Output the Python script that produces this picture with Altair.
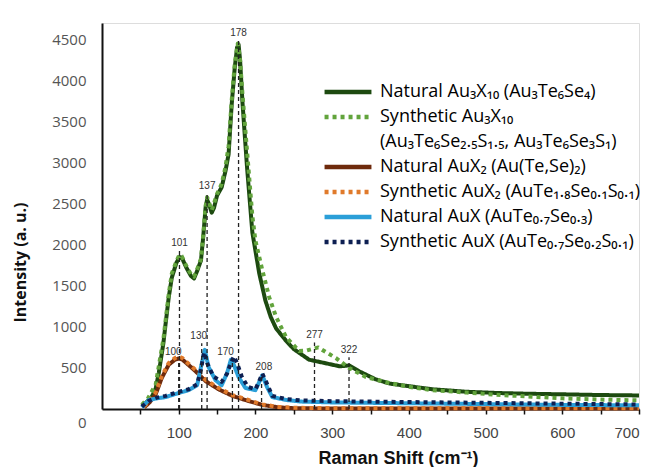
import altair as alt
import pandas as pd

series_names = [
    "Natural Au₃X₁₀ (Au₃Te₆Se₄)",
    "Synthetic Au₃X₁₀",
    "(Au₃Te₆Se₂.₅S₁.₅, Au₃Te₆Se₃S₁)",
    "Natural AuX₂ (Au(Te,Se)₂)",
    "Synthetic AuX₂ (AuTe₁.₈Se₀.₁S₀.₁)",
    "Natural AuX (AuTe₀.₇Se₀.₃)",
    "Synthetic AuX (AuTe₀.₇Se₀.₂S₀.₁)",
]
series_colors = ["#1d4a10", "#62a43c", "transparent", "#6e2a0c", "#e07a2b", "#2b9fd8", "#0d1f52"]
series_dash = [[1, 0], [4, 4], [1, 0], [1, 0], [4, 4], [1, 0], [4, 4]]

# Natural Au3X10
nat_au3x10_x = [52, 60, 65, 70, 74, 80, 83, 87, 91, 97, 101, 104, 110, 116, 120, 124, 129, 132, 135, 137, 140, 143, 146, 150, 156, 161, 165, 169, 173, 176, 178, 180, 183, 189, 196, 205, 213, 220, 227, 240, 250, 270, 290, 310, 322, 335, 357, 375, 390, 431, 475, 518, 560, 606, 650, 700]
nat_au3x10_y = [30, 100, 150, 250, 437, 800, 1044, 1360, 1600, 1780, 1850, 1845, 1720, 1620, 1590, 1680, 1808, 2100, 2450, 2550, 2480, 2390, 2450, 2600, 2700, 2900, 3100, 3700, 4150, 4400, 4440, 4250, 3750, 2950, 2150, 1650, 1320, 1120, 980, 830, 730, 600, 560, 520, 530, 460, 360, 310, 290, 240, 210, 194, 185, 178, 170, 165]

# Synthetic Au3X10
syn_au3x10_x = [52, 60, 70, 80, 87, 91, 97, 101, 104, 110, 116, 120, 124, 129, 132, 135, 137, 140, 143, 150, 156, 161, 165, 169, 173, 177, 180, 183, 189, 196, 200, 209, 218, 227, 240, 257, 266, 282, 292, 305, 322, 344, 375, 400, 430, 475, 520, 560, 600, 650, 700]
syn_au3x10_y = [50, 130, 300, 850, 1400, 1650, 1800, 1880, 1860, 1740, 1640, 1610, 1700, 1830, 2120, 2470, 2580, 2500, 2420, 2620, 2740, 2950, 3200, 3750, 4200, 4450, 4250, 3850, 3150, 2350, 2050, 1690, 1360, 1120, 875, 705, 710, 750, 692, 620, 500, 390, 315, 270, 230, 200, 170, 150, 130, 115, 105]

# Natural AuX2
nat_aux2_x = [55, 62, 70, 78, 87, 95, 100, 105, 110, 122, 135, 152, 170, 190, 209, 230, 250, 300, 400, 500, 600, 700]
nat_aux2_y = [20, 80, 180, 380, 540, 600, 615, 600, 560, 460, 340, 240, 160, 100, 50, 20, 10, 5, 5, 5, 5, 5]

# Synthetic AuX2
syn_aux2_x = [55, 62, 70, 78, 87, 95, 100, 105, 110, 122, 135, 152, 170, 191, 209, 230, 250, 300, 400, 500, 600, 700]
syn_aux2_y = [30, 100, 200, 400, 560, 620, 640, 620, 575, 475, 355, 255, 170, 110, 55, 25, 15, 10, 10, 10, 10, 10]

# Natural AuX
nat_aux_x = [52, 61, 72, 83, 100, 113, 124, 129, 134, 139, 148, 156, 163, 168, 172, 178, 187, 200, 205, 209, 215, 222, 240, 260, 300, 400, 500, 600, 700]
nat_aux_y = [20, 110, 130, 145, 195, 230, 290, 510, 720, 510, 350, 290, 437, 600, 534, 390, 255, 230, 330, 410, 270, 145, 110, 90, 80, 70, 60, 50, 45]

# Synthetic AuX
syn_aux_x = [52, 61, 72, 83, 100, 113, 124, 129, 133, 137, 145, 156, 163, 168, 172, 176, 182, 190, 200, 205, 209, 214, 222, 240, 260, 300, 400, 500, 600, 700]
syn_aux_y = [30, 100, 140, 160, 210, 240, 300, 480, 690, 560, 400, 330, 430, 560, 640, 560, 400, 270, 240, 340, 430, 330, 160, 120, 105, 95, 85, 75, 65, 55]

# Peak annotations
peak_pos = [178, 137, 101, 277, 322, 100, 130, 170, 208]
peak_top = [4480, 2620, 1930, 810, 630, 600, 800, 610, 420]
peak_text = ["178", "137", "101", "277", "322", "100", "130", "170", "208"]
peak_text_x = [178, 137, 101, 277, 322, 93, 126, 161, 211]
peak_text_y = [4575, 2718, 2027, 898, 716, 692, 886, 692, 510]

draw_order = [
    (series_names[0], nat_au3x10_x, nat_au3x10_y),
    (series_names[1], syn_au3x10_x, syn_au3x10_y),
    (series_names[3], nat_aux2_x, nat_aux2_y),
    (series_names[4], syn_aux2_x, syn_aux2_y),
    (series_names[5], nat_aux_x, nat_aux_y),
    (series_names[6], syn_aux_x, syn_aux_y),
]

x_scale = alt.Scale(domain=[0, 700], nice=False, zero=False)
y_scale = alt.Scale(domain=[0, 4700], nice=False)

x_axis = alt.Axis(
    values=list(range(50, 701, 50)),
    labelExpr="datum.value % 100 == 0 ? datum.label : ''",
    title="Raman Shift (cm⁻¹)",
    titleFont="Liberation Sans", titleFontSize=18, titleFontWeight="bold", titleColor="#111",
    titleX=296, titleY=49, titleBaseline="middle",
    labelFont="Liberation Sans", labelFontSize=15, labelColor="#444",
    labelPadding=11, tickSize=5, tickColor="#111", tickWidth=1.5,
    domainColor="#111", domainWidth=2, grid=False,
)
y_axis = alt.Axis(
    values=list(range(0, 4501, 500)), format="d",
    title="Intensity (a. u.)",
    titleFont="Open Sans", titleFontSize=16, titleFontWeight="bold", titleColor="#111",
    titleX=-82, titleY=239, titleBaseline="middle",
    labelFont="Open Sans", labelFontSize=15, labelColor="#555",
    labelPadding=16, ticks=False,
    labelOffset={"condition": {"test": "datum.value == 0", "value": 13}, "value": 0},
    domainColor="#111", domainWidth=2, grid=False,
)

legend = alt.Legend(
    orient="none", legendX=237, legendY=60, title=None,
    labelFont="Open Sans", labelFontSize=18, labelColor="#000", labelOffset=23,
    symbolType="M-5,0H5", symbolSize=88, symbolStrokeWidth=4.5,
    rowPadding=7, labelLimit=400,
)

layers = []
for name, xs, ys in draw_order:
    df = pd.DataFrame({"x": xs, "y": ys, "series": [name] * len(xs)})
    layers.append(
        alt.Chart(df).mark_line(strokeWidth=4, strokeCap="butt", strokeJoin="round").encode(
            x=alt.X("x:Q", scale=x_scale, axis=x_axis),
            y=alt.Y("y:Q", scale=y_scale, axis=y_axis),
            color=alt.Color("series:N", scale=alt.Scale(domain=series_names, range=series_colors), legend=legend),
            strokeDash=alt.StrokeDash("series:N", scale=alt.Scale(domain=series_names, range=series_dash), legend=legend),
        )
    )

peaks = pd.DataFrame({
    "pos": peak_pos, "top": peak_top, "label": peak_text,
    "lx": peak_text_x, "ly": peak_text_y,
})
rules = alt.Chart(peaks).transform_calculate(base="0").mark_rule(
    strokeDash=[4, 3], color="#222", strokeWidth=1.3
).encode(
    x=alt.X("pos:Q", scale=x_scale),
    y=alt.Y("base:Q", scale=y_scale),
    y2="top:Q",
)
texts = alt.Chart(peaks).mark_text(font="Liberation Sans", fontSize=10, color="#333", baseline="middle").encode(
    x=alt.X("lx:Q", scale=x_scale), y=alt.Y("ly:Q", scale=y_scale), text="label:N"
)

chart = alt.layer(*layers, rules, texts).properties(
    width=537, height=386,
    padding={"top": 15, "left": 4, "right": 5, "bottom": 0},
).configure_view(stroke=None).configure(background="white")

chart.save("out.html", embed_options={"renderer": "svg", "actions": False})
